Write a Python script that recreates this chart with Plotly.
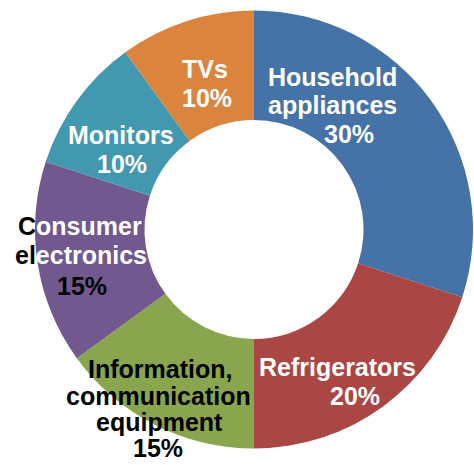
import plotly.graph_objects as go

# Share of each product group (percent)
categories = ["Household appliances", "Refrigerators",
              "Information, communication equipment",
              "Consumer electronics", "Monitors", "TVs"]
shares = [30, 20, 15, 15, 10, 10]
colors = ["#4572A7", "#AA4643", "#89A54E", "#71588F", "#4198AF", "#DB843D"]

# Label lines for each slice (the percent line is built from the values)
label_lines = [
    ["Household", "appliances"],
    ["Refrigerators"],
    ["Information,", "communication", "equipment"],
    ["<span style='color:black'>C</span>onsumer",
     "<span style='color:black'>el</span>ectronics"],
    ["Monitors"],
    ["TVs"],
]
label_colors = ["white", "white", "black", "white", "white", "white"]
percent_colors = ["white", "white", "black", "black", "white", "white"]

# Pixel placement of every line (x centre, y centre of the capitals)
name_pos = [
    [(332, 76.5), (332, 104.5)],
    [(337.5, 366.5)],
    [(159.5, 369), (158.5, 395.5), (159.5, 422)],
    [(80, 226.5), (80.5, 254.5)],
    [(121.5, 134.5)],
    [(205, 68.5)],
]
percent_pos = [(349, 134), (355, 395.5), (158, 448), (82, 285.5),
               (122, 164), (206.5, 97.5)]

W, H = 474, 465

fig = go.Figure(go.Pie(
    labels=categories,
    values=shares,
    sort=False,
    direction="clockwise",
    rotation=0,
    hole=0.5,
    marker=dict(colors=colors, line=dict(width=0)),
    textinfo="none",
    hoverinfo="label+percent",
    domain=dict(x=[35 / W, 473 / W], y=[1 - 450 / H, 1 - 9 / H]),
))

font_family = "Liberation Sans, Arial, sans-serif"
annotations = []
for lines, positions, lc, pc, share, ppos in zip(
        label_lines, name_pos, label_colors, percent_colors, shares, percent_pos):
    for text, (px, py) in zip(lines, positions):
        annotations.append(dict(
            text=f"<b>{text}</b>", x=px / W, y=1 - py / H,
            xref="paper", yref="paper", xanchor="center", yanchor="middle",
            showarrow=False, font=dict(family=font_family, size=25, color=lc)))
    px, py = ppos
    annotations.append(dict(
        text=f"<b>{share}%</b>", x=px / W, y=1 - py / H,
        xref="paper", yref="paper", xanchor="center", yanchor="middle",
        showarrow=False, font=dict(family=font_family, size=25, color=pc)))

fig.update_layout(
    width=W, height=H,
    margin=dict(l=0, r=0, t=0, b=0),
    paper_bgcolor="white",
    plot_bgcolor="white",
    showlegend=False,
    annotations=annotations,
)

fig.write_html("out.html")
